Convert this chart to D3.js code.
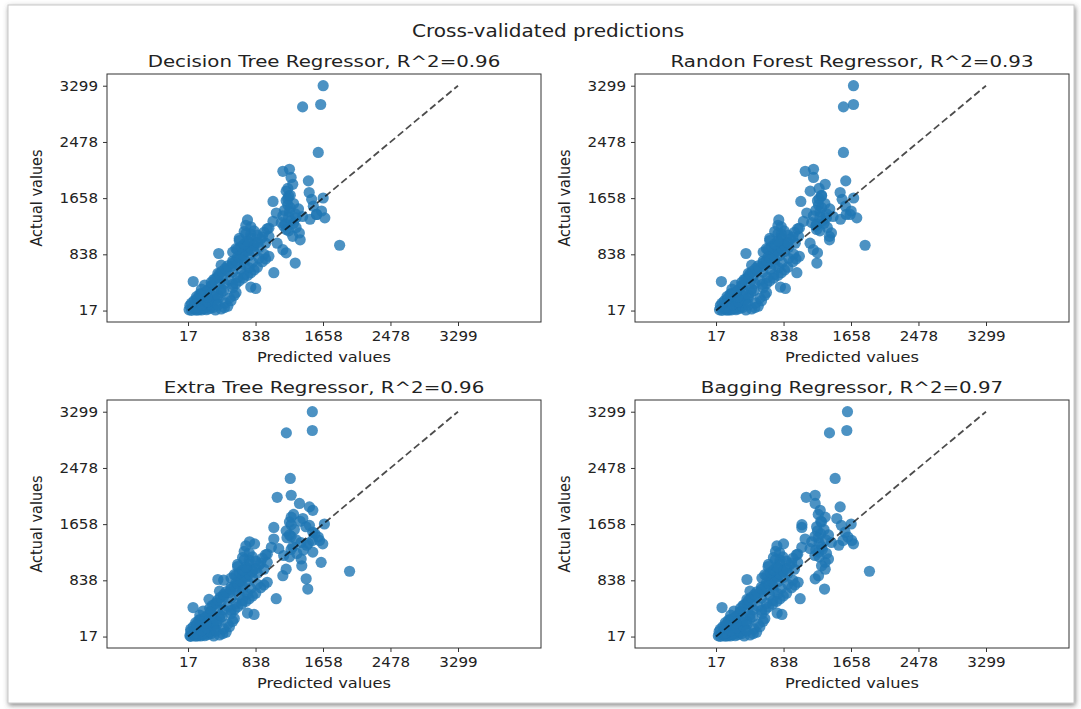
<!DOCTYPE html>
<html>
<head>
<meta charset="utf-8">
<script src="https://cdn.jsdelivr.net/npm/d3@7"></script>
<style>
  body { margin: 0; background: #ffffff; }
  svg { display: block; font-family: "DejaVu Sans", sans-serif; }
</style>
</head>
<body>
<div id="chart"></div>
<script>
// actual values (same for every model), grouped roughly by size
let actual = [
  20, 22, 25, 28, 30, 35, 40, 45, 50, 55, 60, 70, 80, 90, 100, 110, 120, 130, 140, 150, 160, 175, 190, 205, 220, 235, 250, 265, 280, 300,
  320, 340, 360, 380, 400, 420, 440, 460, 480, 500, 520, 540, 560, 580, 600, 620, 640, 660, 680, 700,
  720, 740, 760, 780, 800, 820, 840, 850, 860, 880, 900, 920, 940, 960, 980, 1000, 1020, 1040, 1060, 1080, 1100,
  1120, 1140, 1160, 1180, 1200, 1220, 1240, 1260, 1290, 1300, 1320, 1340, 1350, 1370, 1390, 1400, 1420, 1440, 1460, 1470, 1500,
  1540, 1560, 1610, 1640, 1650, 1660, 1690, 1740, 1760, 1860, 1910, 1960, 2050, 2080,
  570, 710, 860, 905, 1000, 1100, 1150, 1050, 1250, 1370, 1420,
  970, 2325, 2990, 3025, 3299,
  30, 45, 65, 85, 105, 125, 145, 170, 195, 215, 240, 260, 290, 330, 370, 410,
  310, 330, 350, 390, 410, 430, 450, 470, 490, 510, 530, 550, 570, 590, 610, 630, 650, 670, 690, 710,
  730, 750, 770, 790, 810, 830, 870, 890, 910, 930, 950, 970, 990, 1010, 1030, 1070, 1090, 1130, 1170, 1210,
  25, 40, 60, 80, 100, 130, 160, 200, 240, 280,
  1180, 1230, 1280, 1330, 1380, 1430, 1480, 1520, 1580, 1620, 1700, 1800
];

let predDT = [
  60, 120, 180, 30, 240, 100, 150, 280, 200, 70, 320, 130, 250, 40, 180, 300, 110, 360, 220, 150, 90, 280, 200, 390, 120, 310, 240, 180, 420, 330,
  260, 840, 780, 300, 560, 400, 80, 520, 350, 620, 440, 700, 380, 560, 480, 660, 760, 540, 420, 620,
  800, 560, 700, 880, 620, 760, 940, 390, 680, 820, 740, 600, 880, 700, 820, 960, 760, 640, 900, 780, 1000,
  860, 720, 940, 820, 1210, 1000, 780, 720, 1300, 1150, 1050, 740, 1500, 1330, 1410, 1170, 1580, 1090, 1250, 1640, 1360,
  1540, 1230, 1050, 1520, 1230, 1660, 1240, 1490, 1210, 1290, 1480, 1270, 1170, 1250,
  1060, 1320, 1210, 1170, 1100, 1290, 1370, 1380, 1180, 1680, 1580,
  1860, 1600, 1410, 1630, 1660,
  150, 220, 110, 300, 190, 60, 260, 340, 130, 250, 380, 160, 230, 420, 300, 460,
  450, 180, 560, 220, 600, 300, 640, 330, 690, 380, 740, 400, 780, 430, 820, 470, 860, 500, 700, 560,
  920, 600, 960, 640, 1000, 680, 560, 740, 620, 780, 660, 820, 700, 860, 740, 640, 920, 780, 700, 980,
  350, 420, 460, 500, 380, 470, 540, 520, 580, 600,
  1240, 1330, 1200, 1270, 1240, 1320, 1190, 1260, 1300, 1210, 1260, 1230
];

let predRF = [
  90, 150, 200, 60, 260, 130, 170, 300, 230, 100, 340, 160, 270, 70, 210, 320, 140, 380, 250, 180, 120, 300, 230, 410, 150, 330, 270, 210, 440, 350,
  290, 860, 800, 330, 580, 430, 82, 550, 380, 640, 470, 720, 410, 590, 510, 680, 780, 570, 450, 650,
  820, 590, 730, 900, 650, 790, 960, 381, 710, 850, 770, 630, 900, 730, 850, 980, 790, 670, 920, 810, 1020,
  890, 770, 970, 846, 1240, 1030, 810, 770, 1330, 1180, 1080, 780, 1530, 1360, 1440, 1200, 1600, 1120, 1280, 1660, 1400,
  1590, 1263, 1048, 1550, 1270, 1690, 1300, 1526, 1162, 1344, 1594, 1202, 1101, 1202,
  1000, 1243, 1250, 1200, 1160, 1396, 1420, 1396, 1230, 1728, 1647,
  1829, 1566, 1566, 1688, 1688,
  180, 250, 140, 330, 220, 90, 290, 370, 160, 280, 410, 190, 260, 450, 330, 490,
  480, 210, 590, 250, 630, 330, 670, 360, 720, 410, 770, 430, 810, 460, 850, 500, 890, 530, 730, 590,
  950, 630, 990, 670, 1030, 710, 590, 770, 650, 810, 690, 850, 730, 890, 770, 670, 950, 810, 730, 1010,
  380, 450, 490, 530, 410, 500, 570, 550, 610, 630,
  1280, 1370, 1240, 1310, 1280, 1360, 1230, 1300, 1340, 1250, 1300, 1270
];

let predET = [
  50, 110, 170, 40, 220, 90, 140, 260, 190, 80, 300, 120, 240, 50, 170, 280, 100, 340, 210, 140, 80, 270, 190, 370, 110, 290, 230, 170, 400, 310,
  250, 820, 740, 290, 540, 380, 78, 500, 330, 600, 420, 680, 272, 540, 450, 640, 740, 520, 400, 600,
  780, 540, 680, 860, 600, 740, 450, 380, 660, 800, 720, 580, 860, 680, 800, 940, 740, 620, 880, 760, 980,
  840, 700, 920, 800, 1180, 980, 760, 700, 1270, 1120, 1030, 720, 1460, 826, 1390, 765, 1530, 1060, 1220, 1600, 1251,
  1534, 1210, 1060, 1493, 1271, 1675, 1250, 1413, 1271, 1534, 1493, 1372, 1101, 1271,
  1089, 1473, 1453, 1170, 1210, 1635, 1392, 1400, 1534, 1655, 1615,
  1981, 1260, 1212, 1528, 1528,
  140, 210, 100, 290, 180, 50, 250, 330, 120, 240, 370, 150, 220, 410, 290, 450,
  430, 160, 540, 200, 580, 280, 620, 310, 670, 360, 720, 380, 760, 410, 800, 450, 840, 480, 680, 540,
  900, 580, 940, 620, 980, 660, 540, 720, 600, 760, 640, 800, 680, 840, 720, 620, 900, 760, 680, 960,
  330, 400, 440, 480, 360, 450, 520, 500, 560, 580,
  1250, 1340, 1420, 1290, 1480, 1330, 1270, 1560, 1310, 1450, 1380, 1300
];

let predBR = [
  70, 130, 190, 45, 250, 110, 160, 290, 210, 85, 330, 140, 260, 55, 190, 310, 120, 370, 230, 160, 100, 290, 210, 400, 130, 320, 250, 190, 430, 340,
  270, 818, 760, 310, 570, 410, 90, 530, 360, 630, 450, 710, 393, 570, 490, 670, 770, 550, 430, 630,
  810, 570, 710, 890, 630, 770, 950, 393, 690, 830, 750, 610, 890, 710, 830, 970, 770, 650, 910, 790, 1010,
  870, 740, 950, 830, 1220, 1010, 790, 740, 1310, 1160, 1060, 757, 1510, 838, 1420, 1180, 1560, 1100, 1260, 1620, 1384,
  1586, 1250, 1060, 1540, 1061, 1660, 1300, 1485, 1344, 1283, 1526, 1222, 1113, 1222,
  1040, 1336, 1222, 1263, 1344, 1344, 1384, 1300, 1263, 1688, 1667,
  1882, 1465, 1396, 1607, 1615,
  160, 230, 120, 310, 200, 70, 270, 350, 140, 260, 390, 170, 240, 430, 310, 470,
  465, 195, 575, 235, 615, 315, 655, 345, 705, 395, 755, 415, 795, 445, 835, 485, 875, 515, 715, 575,
  935, 615, 975, 655, 1015, 695, 575, 755, 635, 795, 675, 835, 715, 875, 755, 655, 935, 795, 715, 995,
  360, 430, 470, 510, 390, 480, 550, 530, 590, 610,
  1270, 1360, 1230, 1300, 1270, 1350, 1220, 1290, 1330, 1240, 1290, 1260
];

let titles = ["Decision Tree Regressor, R^2=0.96", "Randon Forest Regressor, R^2=0.93",
              "Extra Tree Regressor, R^2=0.96", "Bagging Regressor, R^2=0.97"];
let tickVals = [17, 838, 1658, 2478, 3299];
let lineEnds = [17, 3299];

let width = 1081;
let height = 709;
let boxW = 434;
let boxH = 248;
let origins = [[107, 74], [635, 74], [107, 400], [635, 400]];
let preds = [predDT, predRF, predET, predBR];
let sx = 1.12;   // the picture is a bit wider than tall

let svg = d3.select("#chart")
    .append("svg")
    .attr("width", width)
    .attr("height", height);

let defs = svg.append("defs");
let shadow = defs.append("filter").attr("id", "shadow")
    .attr("x", "-5%").attr("y", "-5%").attr("width", "110%").attr("height", "110%");
shadow.append("feDropShadow")
    .attr("dx", 1).attr("dy", 2).attr("stdDeviation", 2.5)
    .attr("flood-color", "#555").attr("flood-opacity", 0.7);

// outer frame
svg.append("rect")
    .attr("x", 8).attr("y", 5)
    .attr("width", 1066).attr("height", 698)
    .attr("fill", "#ffffff")
    .attr("stroke", "#c8c8c8")
    .attr("stroke-width", 1)
    .attr("filter", "url(#shadow)");

svg.append("text")
    .attr("transform", "translate(548,37) scale(1.18,1)")
    .attr("text-anchor", "middle")
    .style("font-size", "17px")
    .style("fill", "#222")
    .text("Cross-validated predictions");

let x = d3.scaleLinear().domain([-968, 4308]).range([0, boxW]);
let y = d3.scaleLinear().domain([-150, 3470]).range([boxH, 0]);

preds.forEach(function (pred, i) {
    let g = svg.append("g")
        .attr("transform", "translate(" + origins[i][0] + "," + origins[i][1] + ")");

    let pts = actual.map((a, j) => ({ p: pred[j], a: a }));

    g.selectAll("circle")
        .data(pts)
        .enter().append("circle")
        .attr("cx", (d) => x(d.p))
        .attr("cy", (d) => y(d.a))
        .attr("r", 5.6)
        .style("fill", "#1f77b4")
        .style("fill-opacity", 0.8);

    g.append("line")
        .attr("x1", x(lineEnds[0])).attr("y1", y(lineEnds[0]))
        .attr("x2", x(lineEnds[1])).attr("y2", y(lineEnds[1]))
        .attr("stroke", "#000")
        .attr("stroke-opacity", 0.7)
        .attr("stroke-width", 1.8)
        .attr("stroke-dasharray", "7,3.5");

    let xAxis = g.append("g")
        .attr("transform", "translate(0," + boxH + ")")
        .call(d3.axisBottom(x).tickValues(tickVals).tickFormat(d3.format("d")).tickSize(4).tickSizeOuter(0).tickPadding(5));
    let yAxis = g.append("g")
        .call(d3.axisLeft(y).tickValues(tickVals).tickFormat(d3.format("d")).tickSize(4).tickSizeOuter(0).tickPadding(8));

    [xAxis, yAxis].forEach(function (ax) {
        ax.select(".domain").remove();
        ax.selectAll("line").attr("stroke", "#333");
        ax.selectAll("text")
            .style("font-size", "13.5px")
            .style("font-family", "DejaVu Sans, sans-serif")
            .style("fill", "#222")
            .attr("transform", "scale(" + sx + ",1)");
    });
    yAxis.selectAll("text").attr("x", -9 / sx);

    g.append("rect")
        .attr("width", boxW).attr("height", boxH)
        .attr("fill", "none")
        .attr("stroke", "#333")
        .attr("stroke-width", 1);

    g.append("text")
        .attr("transform", "translate(" + boxW / 2 + ",-7) scale(1.2,1)")
        .attr("text-anchor", "middle")
        .style("font-size", "16.5px")
        .style("fill", "#222")
        .text(titles[i]);

    g.append("text")
        .attr("transform", "translate(" + boxW / 2 + "," + (boxH + 40) + ") scale(" + sx + ",1)")
        .attr("text-anchor", "middle")
        .style("font-size", "14.5px")
        .style("fill", "#222")
        .text("Predicted values");

    g.append("text")
        .attr("transform", "translate(-65," + boxH / 2 + ") rotate(-90) scale(1,1.1)")
        .attr("text-anchor", "middle")
        .style("font-size", "14.5px")
        .style("fill", "#222")
        .text("Actual values");
});
</script>
</body>
</html>
